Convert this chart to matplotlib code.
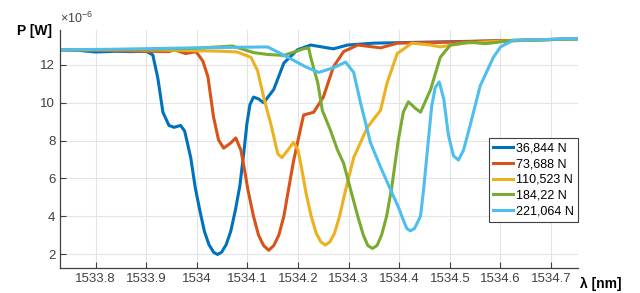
import matplotlib
matplotlib.use("Agg")
import matplotlib.pyplot as plt

plt.rcParams['font.family'] = ['Liberation Sans', 'DejaVu Sans']
plt.rcParams['mathtext.fontset'] = 'custom'
plt.rcParams['mathtext.rm'] = 'Liberation Sans'

# wavelength [nm] and power [x1e-6 W], one pair of lists per load
lam_1 = [1533.73, 1533.77, 1533.80, 1533.84, 1533.87, 1533.90, 1533.913, 1533.923, 1533.933,
         1533.945, 1533.955, 1533.968, 1533.976, 1533.988, 1533.997, 1534.006, 1534.015,
         1534.024, 1534.033, 1534.041, 1534.049, 1534.058, 1534.067, 1534.076, 1534.085,
         1534.093, 1534.099, 1534.105, 1534.112, 1534.122, 1534.132, 1534.152, 1534.172,
         1534.199, 1534.225, 1534.258, 1534.270, 1534.298, 1534.35, 1534.45, 1534.55,
         1534.65, 1534.753]
p_1 = [12.80, 12.76, 12.68, 12.72, 12.70, 12.72, 12.53, 11.3, 9.5,
       8.8, 8.7, 8.8, 8.5, 7.1, 5.5, 4.3, 3.2,
       2.5, 2.1, 1.98, 2.1, 2.5, 3.2, 4.3, 5.6,
       7.4, 8.9, 9.9, 10.3, 10.2, 10.0, 10.7, 12.1,
       12.8, 13.05, 12.9, 12.85, 13.05, 13.15, 13.2, 13.25,
       13.3, 13.38]

lam_2 = [1533.73, 1533.80, 1533.85, 1533.90, 1533.945, 1533.955, 1533.978, 1533.998, 1534.004,
         1534.012, 1534.022, 1534.033, 1534.043, 1534.053, 1534.067, 1534.077, 1534.087,
         1534.094, 1534.101, 1534.112, 1534.122, 1534.132, 1534.142, 1534.152, 1534.162,
         1534.172, 1534.181, 1534.191, 1534.199, 1534.211, 1534.231, 1534.250, 1534.270,
         1534.290, 1534.318, 1534.363, 1534.397, 1534.50, 1534.60, 1534.753]
p_2 = [12.80, 12.78, 12.75, 12.72, 12.70, 12.8, 12.6, 12.7, 12.5,
       12.2, 11.37, 9.25, 8.03, 7.6, 7.87, 8.14, 7.5,
       6.5, 5.39, 4.0, 3.0, 2.45, 2.2, 2.45, 3.0,
       4.0, 5.39, 6.9, 7.9, 9.35, 9.5, 10.3, 11.9,
       12.7, 13.05, 12.9, 13.15, 13.2, 13.28, 13.38]

lam_3 = [1533.73, 1533.85, 1533.95, 1534.05, 1534.08, 1534.107, 1534.12, 1534.132, 1534.146,
         1534.160, 1534.168, 1534.180, 1534.191, 1534.200, 1534.208, 1534.216, 1534.226,
         1534.236, 1534.245, 1534.254, 1534.263, 1534.272, 1534.282, 1534.294, 1534.310,
         1534.337, 1534.363, 1534.376, 1534.396, 1534.425, 1534.462, 1534.481, 1534.527,
         1534.60, 1534.753]
p_3 = [12.80, 12.80, 12.78, 12.72, 12.68, 12.4, 11.7, 10.3, 8.9,
       7.3, 7.1, 7.5, 7.9, 7.5, 6.4, 5.2, 4.0,
       3.1, 2.65, 2.48, 2.65, 3.1, 4.0, 5.39, 7.1,
       8.7, 9.6, 11.05, 12.6, 13.15, 13.05, 12.95, 13.15,
       13.25, 13.38]

lam_4 = [1533.73, 1533.90, 1534.00, 1534.07, 1534.112, 1534.140, 1534.172, 1534.211, 1534.221,
         1534.225, 1534.239, 1534.248, 1534.264, 1534.278, 1534.290, 1534.304, 1534.318,
         1534.329, 1534.338, 1534.347, 1534.356, 1534.365, 1534.375, 1534.385, 1534.398,
         1534.408, 1534.418, 1534.432, 1534.442, 1534.462, 1534.481, 1534.501, 1534.54,
         1534.57, 1534.62, 1534.753]
p_4 = [12.80, 12.82, 12.88, 13.0, 12.65, 12.55, 12.5, 12.85, 12.9,
       12.4, 11.05, 9.6, 8.55, 7.5, 6.8, 5.39, 4.0,
       3.0, 2.45, 2.3, 2.45, 3.0, 4.0, 5.5, 8.0,
       9.5, 10.05, 9.7, 9.5, 10.7, 12.4, 13.05, 13.2,
       13.12, 13.28, 13.38]

lam_5 = [1533.73, 1533.85, 1533.95, 1534.05, 1534.140, 1534.180, 1534.215, 1534.241, 1534.270,
         1534.294, 1534.310, 1534.323, 1534.343, 1534.363, 1534.383, 1534.398, 1534.408,
         1534.415, 1534.422, 1534.430, 1534.442, 1534.448, 1534.456, 1534.464, 1534.471,
         1534.479, 1534.488, 1534.497, 1534.507, 1534.517, 1534.527, 1534.540, 1534.560,
         1534.586, 1534.600, 1534.625, 1534.70, 1534.753]
p_5 = [12.80, 12.83, 12.88, 12.92, 12.95, 12.4, 11.9, 11.6, 11.85,
       12.15, 11.6, 10.05, 7.9, 6.6, 5.39, 4.5, 3.8,
       3.35, 3.23, 3.35, 4.0, 5.39, 7.6, 9.8, 10.8,
       11.1, 10.2, 8.3, 7.2, 6.97, 7.5, 8.8, 10.9,
       12.4, 12.95, 13.3, 13.35, 13.4]

labels = ['36,844 N', '73,688 N', '110,523 N', '184,22 N', '221,064 N']
colors = ['#0072BD', '#D95319', '#EDB120', '#77AC30', '#4DBEEE']
x_ticks = [1533.8, 1533.9, 1534, 1534.1, 1534.2, 1534.3, 1534.4, 1534.5, 1534.6, 1534.7]
x_ticklabels = ['1533.8', '1533.9', '1534', '1534.1', '1534.2', '1534.3', '1534.4', '1534.5', '1534.6', '1534.7']
y_ticks = [2, 4, 6, 8, 10, 12]

fig = plt.figure(figsize=(6.4, 2.93), dpi=100)
ax = fig.add_axes([0.094, 0.085, 0.809, 0.813])

series = [(lam_1, p_1), (lam_2, p_2), (lam_3, p_3), (lam_4, p_4), (lam_5, p_5)]
for (lam, p), lab, c in zip(series, labels, colors):
    ax.plot(lam, p, color=c, lw=2.2, label=lab, solid_joinstyle='round')

ax.set_xlim(1533.73, 1534.753)
ax.set_ylim(1.26, 13.85)
ax.set_xticks(x_ticks)
ax.set_xticklabels(x_ticklabels)
ax.set_yticks(y_ticks)
ax.grid(True, color='#e4e4e4', lw=0.8)
ax.set_axisbelow(True)
ax.tick_params(direction='in', length=4, labelsize=9.5, colors='#404040', width=0.8)
for s in ['top', 'right']:
    ax.spines[s].set_visible(False)
for s in ['left', 'bottom']:
    ax.spines[s].set_color('#404040')
    ax.spines[s].set_linewidth(0.9)

leg = ax.legend(loc='upper right', bbox_to_anchor=(1.0, 0.546), borderaxespad=0,
                fontsize=9, handlelength=1.6, handletextpad=0.2, labelspacing=0.3,
                borderpad=0.35, fancybox=False, framealpha=1)
leg.get_frame().set_edgecolor('#404040')
leg.get_frame().set_linewidth(0.8)

fig.text(17 / 640, 1 - 31 / 293, 'P [W]', fontsize=10, fontweight='bold', va='center', ha='left')
ax.text(0.0, 1.015, r'$\times10^{-6}$', transform=ax.transAxes, fontsize=9, color='#404040',
        va='bottom', ha='left')
fig.text(580 / 640, 1 - 284 / 293, 'λ [nm]', fontsize=10, fontweight='bold', va='center', ha='left')

fig.savefig('out.png', dpi=100)
